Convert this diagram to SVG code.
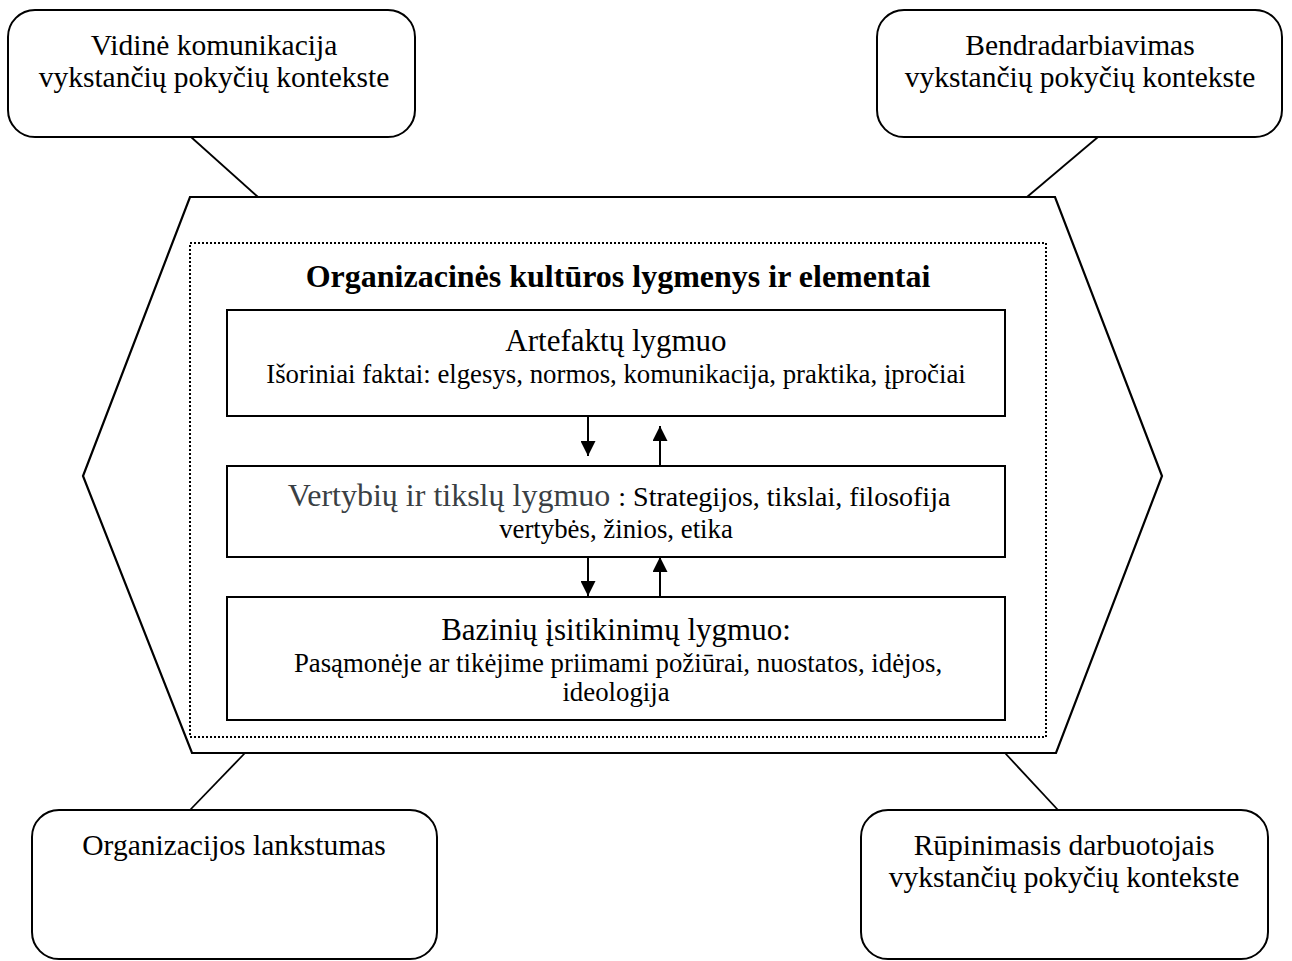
<svg xmlns="http://www.w3.org/2000/svg" width="1292" height="961" viewBox="0 0 1292 961">
  <style>
    .bubble { fill: #ffffff; stroke: #000000; stroke-width: 2; }
    .box { fill: #ffffff; stroke: #000000; stroke-width: 2; }
    .frame { fill: none; stroke: #000000; stroke-width: 2; stroke-dasharray: 2 2; }
    .hex { fill: #ffffff; stroke: #000000; stroke-width: 2.2; stroke-linejoin: miter; }
    .link { stroke: #000000; stroke-width: 1.8; fill: none; }
    .arrow { stroke: #000000; stroke-width: 2; fill: none; marker-end: url(#head); }
    text { font-family: "Liberation Serif", "Times New Roman", serif; fill: #000000; text-anchor: middle; }
    .outer { font-size: 29.5px; }
    .title { font-size: 32px; font-weight: bold; }
    .head { font-size: 31px; }
    .sub { font-size: 26.8px; }
    .grey { fill: #3a3f44; font-size: 32px; }
    .note { font-size: 28px; }
  </style>
  <defs>
    <marker id="head" viewBox="0 0 10 10" refX="10" refY="5" markerWidth="15" markerHeight="15" markerUnits="userSpaceOnUse" orient="auto">
      <path d="M0,0 L10,5 L0,10 Z" fill="#000000"/>
    </marker>
  </defs>

  <g id="core">
    <polygon class="hex" points="190,197 1055,197 1162,476 1056,753 192,753 83,476"/>
    <rect class="frame" x="190" y="243" width="856" height="494"/>
    <text class="title" x="618" y="287">Organizacinės kultūros lygmenys ir elementai</text>
  </g>

  <g id="artifacts">
    <rect class="box" x="227" y="310" width="778" height="106"/>
    <text class="head" x="616" y="351">Artefaktų lygmuo</text>
    <text class="sub" x="616" y="383">Išoriniai faktai: elgesys, normos, komunikacija, praktika, įpročiai</text>
  </g>

  <g id="values">
    <rect class="box" x="227" y="466" width="778" height="91"/>
    <text x="619" y="506"><tspan class="grey">Vertybių ir tikslų lygmuo </tspan><tspan class="note">: Strategijos, tikslai, filosofija</tspan></text>
    <text class="sub" x="616" y="538">vertybės, žinios, etika</text>
  </g>

  <g id="assumptions">
    <rect class="box" x="227" y="597" width="778" height="123"/>
    <text class="head" x="616" y="640">Bazinių įsitikinimų lygmuo:</text>
    <text class="sub" x="618" y="672">Pasąmonėje ar tikėjime priimami požiūrai, nuostatos, idėjos,</text>
    <text class="sub" x="616" y="701">ideologija</text>
  </g>

  <g id="communication">
    <rect class="bubble" x="8" y="10" width="407" height="127" rx="27" ry="27"/>
    <text class="outer" x="214" y="55">Vidinė komunikacija</text>
    <text class="outer" x="214" y="87">vykstančių pokyčių kontekste</text>
  </g>

  <g id="cooperation">
    <rect class="bubble" x="877" y="10" width="405" height="127" rx="27" ry="27"/>
    <text class="outer" x="1080" y="55">Bendradarbiavimas</text>
    <text class="outer" x="1080" y="87">vykstančių pokyčių kontekste</text>
  </g>

  <g id="flexibility">
    <rect class="bubble" x="32" y="810" width="405" height="149" rx="27" ry="27"/>
    <text class="outer" x="234" y="855">Organizacijos lankstumas</text>
  </g>

  <g id="care">
    <rect class="bubble" x="861" y="810" width="407" height="149" rx="27" ry="27"/>
    <text class="outer" x="1064" y="855">Rūpinimasis darbuotojais</text>
    <text class="outer" x="1064" y="887">vykstančių pokyčių kontekste</text>
  </g>

  <!-- links from the bubbles to the hexagon, and the arrows between levels -->
  <g id="connectors">
    <line class="link" x1="191" y1="137" x2="258" y2="197"/>
    <line class="link" x1="1098" y1="137" x2="1027" y2="197"/>
    <line class="link" x1="245" y1="753" x2="190" y2="810"/>
    <line class="link" x1="1005" y1="753" x2="1058" y2="810"/>
    <line class="arrow" x1="588" y1="417" x2="588" y2="456"/>
    <line class="arrow" x1="660" y1="465" x2="660" y2="426"/>
    <line class="arrow" x1="588" y1="558" x2="588" y2="596"/>
    <line class="arrow" x1="660" y1="596" x2="660" y2="557"/>
  </g>
</svg>
